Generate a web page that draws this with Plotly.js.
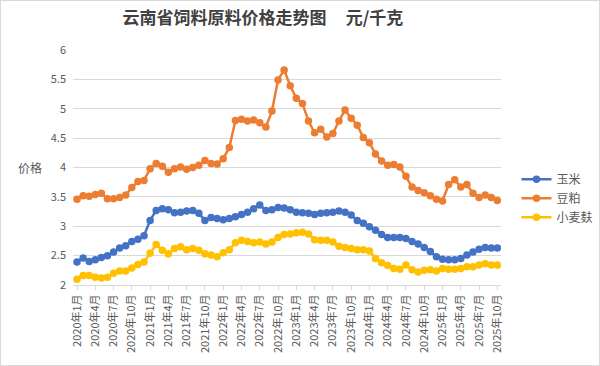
<!DOCTYPE html>
<html><head><meta charset="utf-8">
<script src="https://cdn.plot.ly/plotly-3.0.1.min.js"></script>
<style>html,body{margin:0;padding:0;background:#fff;}#c{width:598px;height:364px;border:1px solid #d9d9d9;}</style>
</head><body><div id="c"></div>
<script>
const years = [2020, 2021, 2022, 2023, 2024, 2025];
const months = [];
years.forEach(y => { for (let m = 1; m <= 12; m++) { if (y === 2025 && m > 10) break; months.push(y + '年' + m + '月'); } });

const tickLabels = ['2020年1月','2020年4月','2020年7月','2020年10月','2021年1月','2021年4月','2021年7月','2021年10月',
  '2022年1月','2022年4月','2022年7月','2022年10月','2023年1月','2023年4月','2023年7月','2023年10月',
  '2024年1月','2024年4月','2024年7月','2024年10月','2025年1月','2025年4月','2025年7月','2025年10月'];

const corn = [2.39,2.46,2.40,2.43,2.47,2.50,2.56,2.63,2.67,2.74,2.78,2.84,
  3.10,3.27,3.30,3.28,3.23,3.24,3.26,3.27,3.22,3.10,3.15,3.13,
  3.11,3.13,3.16,3.20,3.24,3.30,3.36,3.27,3.28,3.32,3.31,3.28,
  3.24,3.23,3.22,3.20,3.22,3.23,3.24,3.26,3.24,3.19,3.10,3.05,
  2.99,2.93,2.86,2.81,2.81,2.81,2.79,2.74,2.70,2.64,2.57,2.48,
  2.44,2.43,2.43,2.45,2.51,2.56,2.61,2.64,2.63,2.63];

const soymeal = [3.46,3.52,3.51,3.54,3.56,3.47,3.47,3.49,3.53,3.66,3.76,3.78,
  3.98,4.07,4.02,3.92,3.98,4.01,3.97,4.00,4.04,4.12,4.07,4.06,
  4.15,4.34,4.80,4.82,4.79,4.81,4.76,4.69,4.96,5.49,5.66,5.39,
  5.18,5.09,4.79,4.59,4.65,4.52,4.58,4.79,4.98,4.84,4.72,4.51,
  4.42,4.23,4.11,4.04,4.05,4.01,3.85,3.67,3.61,3.57,3.52,3.46,
  3.43,3.71,3.79,3.67,3.71,3.56,3.49,3.53,3.49,3.44];

const bran = [2.10,2.16,2.16,2.13,2.12,2.13,2.20,2.24,2.24,2.29,2.35,2.39,
  2.54,2.69,2.59,2.53,2.62,2.65,2.60,2.62,2.59,2.53,2.51,2.48,
  2.55,2.60,2.72,2.76,2.74,2.72,2.73,2.70,2.73,2.81,2.86,2.87,
  2.89,2.90,2.87,2.77,2.76,2.76,2.73,2.66,2.64,2.62,2.60,2.60,
  2.58,2.45,2.38,2.33,2.28,2.27,2.34,2.26,2.22,2.25,2.26,2.24,
  2.28,2.27,2.27,2.28,2.31,2.31,2.34,2.36,2.34,2.34];

const seriesNames = ['玉米', '豆粕', '小麦麸'];
const colors = ['#4472C4', '#ED7D31', '#FFC000'];
const allSeries = [corn, soymeal, bran];

const FONT = '"Noto Sans CJK SC", "Noto Sans", sans-serif';
const traces = allSeries.map((vals, i) => ({
  x: months, y: vals, name: seriesNames[i], type: 'scatter', mode: 'lines+markers',
  line: {color: colors[i], width: 2.5},
  marker: {color: colors[i], size: 7.5},
  hoverinfo: 'x+y+name'
}));

const layout = {
  width: 598, height: 364,
  margin: {l: 72, r: 98, t: 49, b: 80, autoexpand: false},
  paper_bgcolor: '#fff', plot_bgcolor: '#fff',
  font: {family: FONT, color: '#595959', size: 11},
  title: {text: '云南省饲料原料价格走势图\u00a0\u00a0\u00a0\u00a0\u00a0元/千克', x: 0.438, xanchor: 'center', xref: 'container',
    y: 0.952, yanchor: 'middle', yref: 'container',
    font: {family: FONT, size: 17, color: '#404040', weight: 'bold'}},
  showlegend: true,
  legend: {xref: 'container', yref: 'container', x: 0.862, xanchor: 'left', y: 0.55, yanchor: 'top',
    font: {size: 12, color: '#595959'}, tracegroupgap: 0, itemwidth: 30, bgcolor: 'rgba(0,0,0,0)'},
  xaxis: {type: 'category', range: [-0.66, 69.6], tickvals: tickLabels, ticktext: tickLabels,
    tickangle: -90, tickfont: {size: 11, color: '#595959'}, ticks: 'outside', ticklen: 4,
    tickcolor: '#d9d9d9', showline: true, linecolor: '#d9d9d9', linewidth: 1, showgrid: false, zeroline: false,
    automargin: false},
  yaxis: {range: [2, 6], tickvals: [2, 2.5, 3, 3.5, 4, 4.5, 5, 5.5, 6],
    ticktext: ['2', '2.5', '3', '3.5', '4', '4.5', '5', '5.5', '6'],
    tickfont: {size: 11, color: '#595959'}, gridcolor: '#d9d9d9', gridwidth: 1,
    showline: false, zeroline: false, ticks: '', ticklabelstandoff: 6, automargin: false},
  annotations: [{text: '价格', xref: 'paper', yref: 'paper', x: -0.1, y: 0.502, xanchor: 'center', yanchor: 'middle',
    showarrow: false, font: {size: 12, color: '#595959'}}]
};

Plotly.newPlot('c', traces, layout, {displayModeBar: false, staticPlot: true});
</script></body></html>
